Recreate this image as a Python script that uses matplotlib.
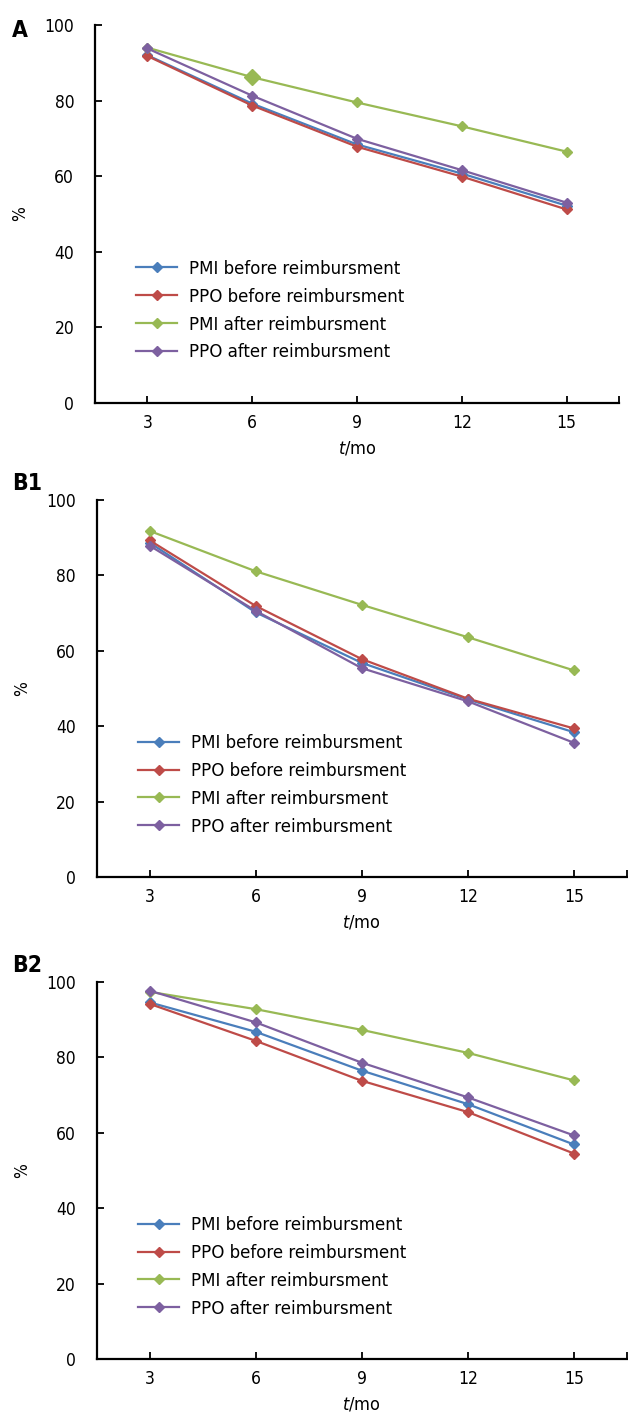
import numpy as np
import matplotlib
matplotlib.use('Agg')
import matplotlib.pyplot as plt

months = [3, 6, 9, 12, 15]
labels = ['PMI before reimbursment', 'PPO before reimbursment',
          'PMI after reimbursment', 'PPO after reimbursment']
colors = ['#4A7EBB', '#BE4B48', '#98B954', '#7D60A0']

# panel A
A_pmi_before = [92.0, 79.2, 68.4, 60.7, 52.2]
A_ppo_before = [91.8, 78.7, 67.8, 59.9, 51.2]
A_pmi_after = [94.0, 86.2, 79.5, 73.2, 66.5]
A_ppo_after = [93.8, 81.3, 69.9, 61.6, 53.0]

# panel B1
B1_pmi_before = [88.7, 70.2, 56.8, 47.1, 38.4]
B1_ppo_before = [89.3, 71.9, 57.8, 47.3, 39.4]
B1_pmi_after = [91.8, 81.1, 72.2, 63.6, 54.8]
B1_ppo_after = [87.9, 70.6, 55.4, 46.6, 35.6]

# panel B2
B2_pmi_before = [94.6, 86.8, 76.5, 67.6, 56.9]
B2_ppo_before = [94.2, 84.4, 73.8, 65.5, 54.5]
B2_pmi_after = [97.4, 92.8, 87.3, 81.2, 73.9]
B2_ppo_after = [97.7, 89.3, 78.6, 69.4, 59.3]

plt.rcParams['font.family'] = 'DejaVu Sans'
plt.rcParams['font.stretch'] = 'condensed'
FS = 12.5

fig = plt.figure(figsize=(6.28, 14.12), dpi=100)

panels = [
    ('A', [A_pmi_before, A_ppo_before, A_pmi_after, A_ppo_after], (95, 619, 25, 403), 19),
    ('B1', [B1_pmi_before, B1_ppo_before, B1_pmi_after, B1_ppo_after], (96.5, 627, 500, 877), 472),
    ('B2', [B2_pmi_before, B2_ppo_before, B2_pmi_after, B2_ppo_after], (96.5, 627, 982, 1359), 954),
]

W, H = 628.0, 1412.0
for name, series, (l, r, t, b), ty in panels:
    ax = fig.add_axes([l / W, 1 - b / H, (r - l) / W, (b - t) / H])
    for vals, lab, c in zip(series, labels, colors):
        ax.plot(months, vals, '-D', color=c, lw=1.6, ms=5, label=lab)
    if name == 'A':
        # the 6-month green point is drawn larger in the original
        ax.plot(months[1], A_pmi_after[1], 'D', color=colors[2], ms=8)
    ax.set_xlim(1.5, 16.5)
    ax.set_ylim(0, 100)
    ax.set_xticks(months)
    ax.set_xticks([1.5, 16.5], minor=True)
    ax.set_yticks(range(0, 101, 20))
    for s in ['top', 'right']:
        ax.spines[s].set_visible(False)
    for s in ['left', 'bottom']:
        ax.spines[s].set_linewidth(1.6)
    ax.tick_params(axis='both', which='both', direction='in', length=5, width=1.3,
                   labelsize=FS)
    ax.tick_params(axis='x', pad=8)
    ax.tick_params(axis='y', pad=15)
    ax.set_xlabel(r'$t$/mo', fontsize=FS + 0.5, labelpad=5)
    ax.set_ylabel('%', fontsize=FS, labelpad=11)
    ax.legend(loc='upper left', bbox_to_anchor=(0.065, 0.398), frameon=False,
              fontsize=13.3, handlelength=2.2, handletextpad=0.65, labelspacing=0.53,
              borderaxespad=0)
    fig.text(12 / W, 1 - ty / H, name, fontsize=16.5, fontweight='bold',
             va='top', ha='left')

fig.savefig('out.png', dpi=100)
